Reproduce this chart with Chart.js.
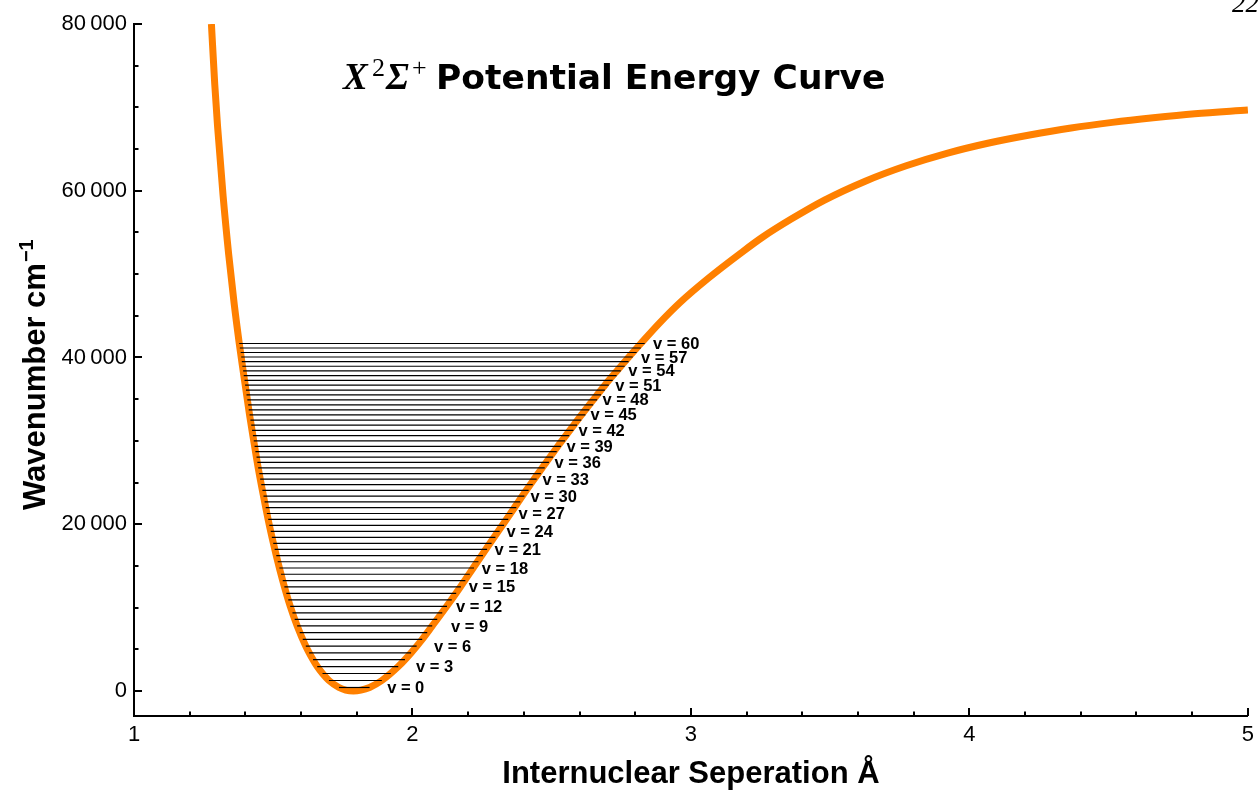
<!DOCTYPE html>
<html><head><meta charset="utf-8">
<script src="https://cdn.jsdelivr.net/npm/chart.js@4.4.1/dist/chart.umd.min.js"></script>
<style>html,body{margin:0;padding:0;background:#fff;} #wrap{width:1260px;height:792px;}</style>
</head><body><div id="wrap"><canvas id="c" width="1260" height="792"></canvas></div>
<script>
// Potential curve (internuclear separation in Å, energy in cm^-1)
const curveR = [1.278,1.290,1.300,1.320,1.340,1.360,1.378,1.392,1.415,1.430,1.446,1.465,1.486,1.511,1.534,1.561,1.586,1.617,1.643,1.658,1.677,1.700,1.736,1.760,1.788,1.815,1.846,1.890,1.949,1.995,2.035,2.071,2.123,2.172,2.218,2.263,2.308,2.352,2.394,2.437,2.480,2.522,2.565,2.607,2.649,2.691,2.734,2.777,2.820,2.886,2.961,3.064,3.182,3.258,3.360,3.478,3.626,3.773,3.922,4.070,4.216,4.365,4.513,4.660,4.809,5.000];
const curveE = [80000,72760,67760,59360,52360,46360,41680,38390,33110,29990,26750,23370,19870,16240,13240,10160,7800,5380,3750,2930,2100,1260,420,115,0,100,420,1260,2930,4570,6190,7800,10160,12480,14750,16980,19150,21290,23370,25410,27410,29350,31250,33110,34910,36680,38390,40060,41680,44100,46600,49550,52600,54450,56600,58850,61150,63000,64520,65730,66690,67530,68200,68750,69230,69680];

// Vibrational levels v = 0 ... 60 (energy, left and right turning points)
const levelE = [420,1260,2100,2930,3750,4570,5380,6190,7000,7800,8590,9380,10160,10940,11710,12480,13240,14000,14750,15500,16240,16980,17710,18430,19150,19870,20580,21290,21990,22680,23370,24060,24740,25410,26080,26750,27410,28060,28710,29350,29990,30620,31250,31880,32490,33110,33710,34320,34910,35510,36090,36680,37250,37820,38390,38950,39510,40060,40600,41140,41680];
const levelLeft = [1.736,1.700,1.677,1.658,1.643,1.629,1.617,1.606,1.595,1.586,1.577,1.569,1.561,1.554,1.547,1.540,1.534,1.528,1.522,1.516,1.511,1.505,1.500,1.495,1.491,1.486,1.482,1.477,1.473,1.469,1.465,1.461,1.457,1.453,1.450,1.446,1.443,1.440,1.436,1.433,1.430,1.427,1.424,1.421,1.418,1.415,1.412,1.410,1.407,1.404,1.402,1.399,1.397,1.394,1.392,1.389,1.387,1.385,1.383,1.380,1.378];
const levelRight = [1.846,1.890,1.922,1.949,1.973,1.995,2.015,2.035,2.053,2.071,2.089,2.107,2.124,2.141,2.157,2.174,2.190,2.206,2.221,2.237,2.253,2.268,2.284,2.298,2.313,2.329,2.344,2.359,2.373,2.387,2.402,2.417,2.432,2.446,2.461,2.475,2.490,2.505,2.518,2.533,2.548,2.563,2.578,2.591,2.606,2.621,2.635,2.649,2.663,2.677,2.691,2.705,2.719,2.733,2.748,2.762,2.776,2.791,2.805,2.820,2.834];

// Level labels
const labelV = [0,3,6,9,12,15,18,21,24,27,30,33,36,39,42,45,48,51,54,57,60];
const labelR = [1.909,2.013,2.077,2.138,2.156,2.202,2.249,2.295,2.338,2.381,2.424,2.467,2.510,2.553,2.596,2.639,2.682,2.728,2.775,2.821,2.864];

// Axis ticks and tick labels
const xTickAll = [1,1.2,1.4,1.6,1.8,2,2.2,2.4,2.6,2.8,3,3.2,3.4,3.6,3.8,4,4.2,4.4,4.6,4.8,5];
const xTickValues = [1,2,3,4,5];
const xTickLabels = ['1','2','3','4','5'];
const yTickAll = [0,5000,10000,15000,20000,25000,30000,35000,40000,45000,50000,55000,60000,65000,70000,75000,80000];
const yTickValues = [0,20000,40000,60000,80000];
const yTickLabels = ['0','20\u2009000','40\u2009000','60\u2009000','80\u2009000'];

const titleText = 'Potential Energy Curve';
const xTitle = 'Internuclear Seperation \u00C5';
const yTitle = 'Wavenumber cm';
const yTitleSup = '\u22121';
const pageNumber = '22';

const datasets = [];
for (let i = 0; i < levelE.length; i++) {
  datasets.push({
    data: [{x: levelLeft[i], y: levelE[i]}, {x: levelRight[i], y: levelE[i]}],
    borderColor: '#000000', borderWidth: 1.2, pointRadius: 0, order: 1, tension: 0
  });
}
datasets.push({
  data: curveR.map((r, i) => ({x: r, y: curveE[i]})),
  borderColor: '#FF8000', borderWidth: 7, pointRadius: 0, order: 2,
  cubicInterpolationMode: 'monotone', borderJoinStyle: 'round'
});

function near(a, b) { return Math.abs(a - b) < 1e-6; }

const decor = {
  id: 'decor',
  afterDatasetsDraw(chart) {
    const ctx = chart.ctx, xs = chart.scales.x, ys = chart.scales.y;
    ctx.save();
    ctx.fillStyle = '#000';
    ctx.font = 'bold 16.5px "Liberation Sans"';
    ctx.textAlign = 'left';
    ctx.textBaseline = 'middle';
    labelV.forEach((v, i) => {
      ctx.fillText('v = ' + v, xs.getPixelForValue(labelR[i]), ys.getPixelForValue(levelE[v]) + 1);
    });
    ctx.restore();
  },
  afterDraw(chart) {
    const ctx = chart.ctx, xs = chart.scales.x, ys = chart.scales.y, ca = chart.chartArea;
    ctx.save();
    ctx.strokeStyle = '#000';
    ctx.lineWidth = 2;
    ctx.beginPath();
    xs.ticks.forEach(t => {
      if (near(t.value, xs.min)) return;
      const p = Math.round(xs.getPixelForValue(t.value));
      const len = xTickValues.some(v => near(v, t.value)) ? 8 : 4.5;
      ctx.moveTo(p, ca.bottom); ctx.lineTo(p, ca.bottom - len);
    });
    ys.ticks.forEach(t => {
      const p = Math.round(ys.getPixelForValue(t.value));
      const len = yTickValues.some(v => near(v, t.value)) ? 8 : 4.5;
      ctx.moveTo(ca.left, p); ctx.lineTo(ca.left + len, p);
    });
    ctx.stroke();

    // Title
    ctx.fillStyle = '#000';
    ctx.textAlign = 'left';
    ctx.textBaseline = 'alphabetic';
    ctx.font = 'italic bold 37px "Liberation Serif"';
    ctx.fillText('X', 343, 89);
    ctx.font = '26px "Liberation Serif"';
    ctx.fillText('2', 372, 76);
    ctx.font = 'italic bold 37px "Liberation Serif"';
    ctx.fillText('\u03A3', 386, 89);
    ctx.font = '26px "Liberation Serif"';
    ctx.fillText('+', 412, 76);
    ctx.font = 'bold 34.5px "DejaVu Sans"';
    ctx.fillText(titleText, 436, 89);

    // Y axis title
    ctx.save();
    ctx.translate(45, 510);
    ctx.rotate(-Math.PI / 2);
    ctx.font = 'bold 31px "Liberation Sans"';
    ctx.fillText(yTitle, 0, 0);
    const w = ctx.measureText(yTitle).width;
    ctx.font = 'bold 20px "Liberation Sans"';
    ctx.fillText(yTitleSup, w + 1, -12);
    ctx.restore();

    // page number, cut at the top edge
    ctx.font = 'italic 27px "Liberation Serif"';
    ctx.fillText(pageNumber, 1232, 12);
    ctx.restore();
  }
};

new Chart(document.getElementById('c'), {
  type: 'line',
  data: {datasets},
  options: {
    responsive: false, animation: false, devicePixelRatio: 1,
    layout: {padding: {left: 0, right: 8, top: 24, bottom: 0}},
    plugins: {legend: {display: false}, tooltip: {enabled: false}, title: {display: false}},
    elements: {point: {radius: 0}},
    scales: {
      x: {
        type: 'linear', min: 1, max: 5,
        grid: {display: false, drawTicks: false},
        border: {display: true, color: '#000', width: 2},
        afterBuildTicks: (s) => { s.ticks = xTickAll.map(v => ({value: v})); },
        ticks: {
          autoSkip: false, maxRotation: 0, minRotation: 0, padding: 6,
          color: '#000', font: {family: 'Liberation Sans', size: 22},
          callback: (v) => { const k = xTickValues.findIndex(t => near(t, v)); return k >= 0 ? xTickLabels[k] : ''; }
        },
        title: {display: true, text: xTitle, color: '#000',
          font: {family: 'Liberation Sans', size: 31, weight: 'bold', lineHeight: 1},
          padding: {top: 0, bottom: 2}},
        afterFit: (s) => { s.height = 76; }
      },
      y: {
        type: 'linear', min: -3000, max: 80000,
        grid: {display: false, drawTicks: false},
        border: {display: true, color: '#000', width: 2},
        afterBuildTicks: (s) => { s.ticks = yTickAll.map(v => ({value: v})); },
        ticks: {
          autoSkip: false, padding: 7,
          color: '#000', font: {family: 'Liberation Sans', size: 22},
          callback: (v) => { const k = yTickValues.findIndex(t => near(t, v)); return k >= 0 ? yTickLabels[k] : ''; }
        },
        afterFit: (s) => { s.width = 134; }
      }
    }
  },
  plugins: [decor]
});
</script>
</body></html>
